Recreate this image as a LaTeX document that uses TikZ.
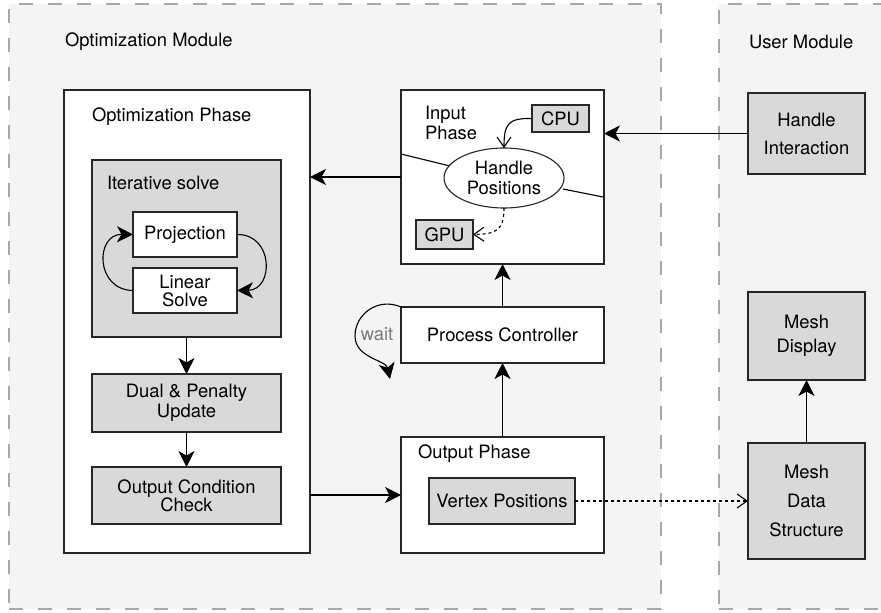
\documentclass[tikz,border=0pt]{standalone}
\usepackage{fontspec}
\setmainfont{TeX Gyre Heros}
\usetikzlibrary{arrows.meta,shapes.geometric}
\definecolor{modfill}{HTML}{F4F4F4}
\definecolor{boxgray}{HTML}{D9D9D9}
\definecolor{dashgray}{HTML}{A8A8A8}
\definecolor{waitgray}{HTML}{7A7A7A}

\begin{document}
\begin{tikzpicture}[x=1pt,y=-1pt,
  every node/.style={font=\fontsize{18.4}{19.5}\selectfont, inner sep=0pt, outer sep=0pt},
  module/.style={rectangle, fill=modfill, draw=dashgray, line width=1.2pt, dash pattern=on 14pt off 15pt},
  box/.style={rectangle, draw=black!85, line width=1.1pt, align=center},
  whitebox/.style={box, fill=white},
  graybox/.style={box, fill=boxgray},
  fl/.style={line width=1.1pt, -{Stealth[length=16pt,width=16pt,inset=4.5pt]}},
  ol/.style={line width=1.1pt, -{Straight Barb[length=10pt,width=14pt]}},
  dotline/.style={dash pattern=on 3pt off 3pt}
]
\useasboundingbox (0,0) rectangle (881,613);
\clip (0,0) rectangle (881,613);

% module regions
\node[module, minimum width=652pt, minimum height=605pt] (optmod) at (335,306.5) {};
\node[module, minimum width=260pt, minimum height=605pt] (usermod) at (849,306.5) {};
\node[anchor=west] (optmodlbl) at (65,42) {Optimization Module};
\node[anchor=west] (usermodlbl) at (749,42) {User Module};

% optimization phase
\node[whitebox, minimum width=246pt, minimum height=463pt] (opphase) at (187,321.5) {};
\node[anchor=west] (opphaselbl) at (92,117) {Optimization Phase};
\node[graybox, minimum width=189pt, minimum height=177pt] (iter) at (186.5,248.5) {};
\node[anchor=west] (iterlbl) at (107,183) {Iterative solve};
\node[whitebox, minimum width=104pt, minimum height=45pt] (proj) at (185,234.5) {Projection};
\node[whitebox, minimum width=104pt, minimum height=45pt,
      font=\fontsize{18.4}{18}\selectfont] (lin) at (185,290.5) {Linear\\Solve};
\node[graybox, minimum width=189pt, minimum height=58pt] (dual) at (186.5,403) {Dual \& Penalty\\Update};
\node[graybox, minimum width=189pt, minimum height=57pt,
      font=\fontsize{18.4}{18}\selectfont] (occ) at (186.5,495.5) {Output Condition\\Check};

% input phase
\node[whitebox, minimum width=203pt, minimum height=174pt] (inphase) at (502.5,177) {};
\node[anchor=west, align=left, font=\fontsize{18.4}{20}\selectfont] (inphaselbl) at (425,123) {Input\\Phase};
\coordinate (sepA1) at (401,154);
\coordinate (sepA2) at (450,166);
\coordinate (sepB1) at (563,189);
\coordinate (sepB2) at (603,197);
\draw[line width=1.1pt] (sepA1) -- (sepA2);
\draw[line width=1.1pt] (sepB1) -- (sepB2);
\node[ellipse, draw=black!85, line width=1.1pt, fill=white, minimum width=120pt, minimum height=60pt,
      align=center] (hp) at (504,178) {Handle\\Positions};
\node[graybox, minimum width=57pt, minimum height=27pt] (cpu) at (560.5,118.5) {CPU};
\node[graybox, minimum width=57pt, minimum height=29pt] (gpu) at (444.5,234.5) {GPU};

% process controller and output phase
\node[whitebox, minimum width=203pt, minimum height=56pt] (pc) at (502.5,335) {Process Controller};
\node[whitebox, minimum width=203pt, minimum height=116pt] (outphase) at (502.5,495) {};
\node[anchor=west] (outphaselbl) at (418,454) {Output Phase};
\node[graybox, minimum width=146pt, minimum height=46pt] (vp) at (502,501) {Vertex Positions};
\node[text=waitgray] (waitlbl) at (377,334) {wait};
\coordinate (waitend) at (390,379);

% user module boxes
\node[graybox, minimum width=117pt, minimum height=81pt,
      font=\fontsize{18.4}{28}\selectfont] (hi) at (806.5,133.5) {Handle\\Interaction};
\node[graybox, minimum width=117pt, minimum height=88pt,
      font=\fontsize{18.4}{24}\selectfont] (md) at (806.5,336) {Mesh\\Display};
\node[graybox, minimum width=117pt, minimum height=116pt,
      font=\fontsize{18.4}{29}\selectfont] (mds) at (806.5,501) {Mesh\\Data\\Structure};

% connectors
\draw[fl] (inphase.west) -- (inphase.west -| opphase.east);
\draw[fl] (hi.west) -- (hi.west -| inphase.east);
\draw[fl] (pc.north) -- (inphase.south);
\draw[fl] (outphase.north) -- (pc.south);
\draw[fl] (outphase.west -| opphase.east) -- (outphase.west);
\draw[fl] (iter.south) -- (dual.north);
\draw[fl] (dual.south) -- (occ.north);
\draw[fl] (mds.north) -- (md.south);
\draw[ol, dotline] (vp.east) -- (mds.west);
\draw[ol] (cpu.west) .. controls (508,118) and (504,124) .. (hp.north);
\draw[ol, dotline] (hp.south) .. controls (504,230) and (497,234) .. (gpu.east);
\draw[fl] (proj.east) .. controls (274,234) and (274,290) .. (lin.east);
\draw[fl] (lin.west) .. controls (95,290) and (95,234) .. (proj.west);
\draw[fl] (pc.north west) .. controls (378,297) and (355,314) .. (355,336)
          .. controls (355,358) and (386,360) .. (waitend);
\end{tikzpicture}
\end{document}
